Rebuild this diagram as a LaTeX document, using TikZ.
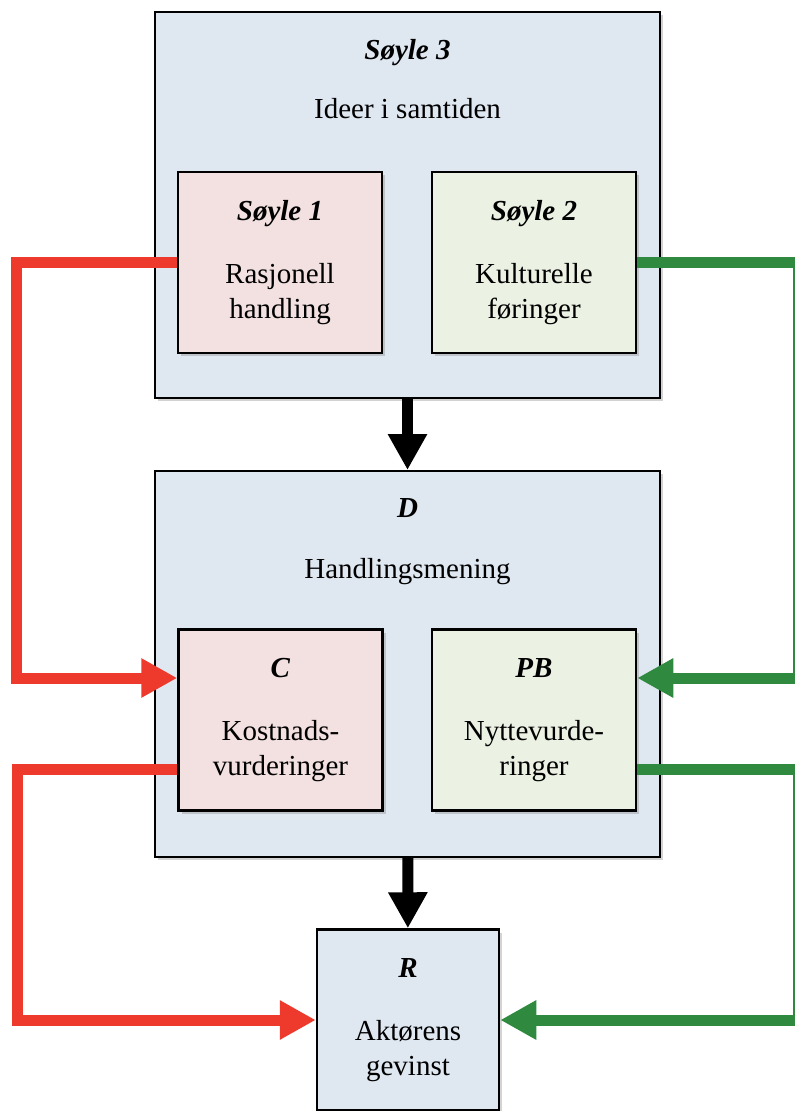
\documentclass[tikz,border=0pt]{standalone}
\usepackage{fontspec}
\setmainfont{Liberation Serif}
\usetikzlibrary{arrows.meta,shadows}
\definecolor{boxblue}{RGB}{223,231,241}
\definecolor{boxpink}{RGB}{243,224,224}
\definecolor{boxgreen}{RGB}{235,241,227}
\definecolor{linered}{RGB}{238,58,45}
\definecolor{linegreen}{RGB}{47,138,64}
\begin{document}
\begin{tikzpicture}[x=1pt,y=-1pt,
    font=\fontsize{29}{35}\selectfont,
    shade/.style={drop shadow={shadow xshift=3pt,shadow yshift=-3pt,opacity=0.35}},
    frame/.style={draw, line width=2pt, fill=boxblue, minimum width=505pt, minimum height=386pt, shade},
    pillar/.style={draw, line width=2.5pt, minimum width=204pt, minimum height=181pt, align=center, shade},
    head/.style={anchor=base, font=\fontsize{29}{35}\selectfont\bfseries\itshape},
    plain/.style={anchor=base},
    flow/.style={line width=11pt, -{Triangle[length=36pt,width=37pt]}},
    cost/.style={flow, linered},
    gain/.style={flow, linegreen}]
\useasboundingbox (0,0) rectangle (795,1111);
% boxes
\node[frame] (s3) at (407.5,205) {};
\node[head] at (407.5,59) {Søyle 3};
\node[plain] at (407.5,118) {Ideer i samtiden};
\node[pillar, fill=boxpink] (s1) at (280,262.5)
  {\textbf{\textit{Søyle 1}}\\[28pt]Rasjonell\\handling};
\node[pillar, fill=boxgreen] (s2) at (534,262.5)
  {\textbf{\textit{Søyle 2}}\\[28pt]Kulturelle\\føringer};
\node[frame] (d) at (407.5,664) {};
\node[head] at (407.5,517) {D};
\node[plain] at (407.5,578) {Handlingsmening};
\node[pillar, fill=boxpink] (c) at (280.5,720)
  {\textbf{\textit{C}}\\[28pt]Kostnads-\\vurderinger};
\node[pillar, fill=boxgreen] (pb) at (534,720)
  {\textbf{\textit{PB}}\\[28pt]Nyttevurde-\\ringer};
\node[pillar, fill=boxblue, minimum width=182pt] (r) at (408,1020)
  {\textbf{\textit{R}}\\[28pt]Aktørens\\gevinst};
% connectors
\draw[flow] (s3) -- (d);
\draw[flow] (d) -- (r);
\draw[cost] (s1.west) -- ++(-160,0) |- ([yshift=42pt]c.west);
\draw[cost] ([yshift=-49pt]c.west) -- ++(-160,0) |- (r.west);
\draw[gain] (s2.east) -- ++(161,0) |- ([yshift=42pt]pb.east);
\draw[gain] ([yshift=-49pt]pb.east) -- ++(161,0) |- (r.east);
\end{tikzpicture}
\end{document}
